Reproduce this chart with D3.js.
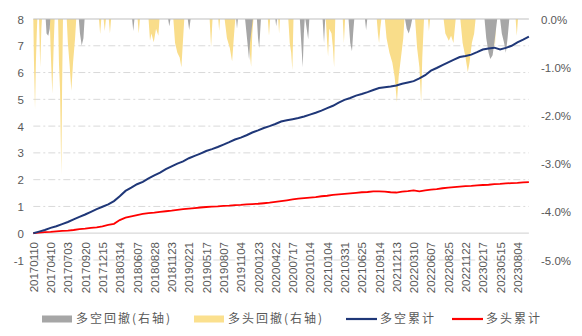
<!DOCTYPE html>
<html><head><meta charset="utf-8">
<script src="https://cdn.jsdelivr.net/npm/d3@7"></script>
<style>
html,body{margin:0;padding:0;background:#fff;}
svg{display:block;}
</style></head>
<body><svg id="c" width="582" height="336"></svg>
<script>
// ---- data ----
const tickLabels = ["20170110","20170410","20170703","20170920","20171215","20180314","20180607","20180828","20181123","20190221","20190517","20190807","20191104","20200123","20200422","20200717","20201014","20210104","20210331","20210625","20210914","20211213","20220310","20220607","20220825","20221122","20230217","20230515","20230804"];
const tickStep = 60;          // trading days between labels
const totalDays = 1720;
const sampleStep = 20;        // trading days between line samples
const longShortCum = [0,0.06,0.12,0.2,0.26,0.34,0.42,0.52,0.61,0.7,0.8,0.9,0.99,1.08,1.2,1.38,1.58,1.7,1.83,1.92,2.05,2.16,2.26,2.39,2.5,2.6,2.68,2.8,2.89,2.97,3.07,3.14,3.22,3.31,3.4,3.5,3.57,3.66,3.76,3.84,3.93,4.0,4.08,4.17,4.22,4.26,4.3,4.36,4.43,4.5,4.58,4.67,4.76,4.88,4.98,5.05,5.14,5.2,5.27,5.35,5.42,5.45,5.48,5.52,5.58,5.63,5.68,5.78,5.9,6.07,6.17,6.28,6.38,6.48,6.58,6.62,6.67,6.76,6.86,6.9,6.93,6.86,6.92,7.0,7.13,7.23,7.34];
const longCum = [0,0.02,0.04,0.05,0.07,0.09,0.1,0.12,0.15,0.17,0.2,0.22,0.26,0.31,0.35,0.49,0.58,0.63,0.68,0.72,0.75,0.77,0.8,0.82,0.84,0.87,0.9,0.92,0.94,0.96,0.98,0.99,1.0,1.02,1.03,1.05,1.06,1.08,1.09,1.1,1.12,1.14,1.17,1.2,1.23,1.26,1.29,1.31,1.33,1.35,1.38,1.4,1.43,1.45,1.47,1.49,1.51,1.53,1.54,1.56,1.56,1.55,1.53,1.52,1.55,1.57,1.6,1.56,1.6,1.63,1.65,1.68,1.7,1.72,1.74,1.76,1.77,1.79,1.8,1.81,1.83,1.84,1.86,1.87,1.88,1.9,1.91];
// drawdowns (% , right axis): [trading day, drawdown]
const longShortDD = [[0,0],[43,0],[46,-0.3],[52,-0.35],[57,-0.2],[59,0],[158,0],[162,-0.3],[168,-0.55],[174,-0.4],[178,0],[343,0],[347,-0.25],[351,0],[468,0],[472,-0.15],[476,0],[536,0],[541,-0.23],[546,0],[704,0],[707,-0.2],[710,0],[735,0],[740,-0.3],[745,-0.6],[749,-0.85],[752,-0.5],[756,-0.3],[762,0],[776,0],[780,-0.4],[784,-0.6],[787,-0.3],[790,0],[840,0],[843,-0.15],[846,0],[925,0],[930,-0.5],[935,-1.0],[939,-0.3],[942,0],[944,0],[950,-0.25],[954,-0.42],[958,0],[1004,0],[1009,-0.5],[1013,0],[1094,0],[1100,-0.5],[1106,-0.67],[1110,-0.3],[1114,0],[1151,0],[1155,-0.23],[1159,0],[1290,0],[1296,-0.2],[1303,-0.3],[1310,-0.15],[1315,0],[1566,0],[1572,-0.4],[1580,-0.7],[1586,-0.83],[1594,-0.75],[1600,-0.5],[1606,-0.2],[1610,0],[1620,0],[1626,-0.3],[1634,-0.5],[1640,-0.7],[1646,-0.4],[1652,0],[1720,0]];
const longDD = [[0,0],[2,-0.8],[6,-1.87],[9,-0.9],[12,-0.3],[14,0],[20,0],[24,-1.0],[28,-0.2],[30,0],[57,0],[60,-0.6],[66,-1.55],[71,-0.5],[74,0],[86,0],[89,-0.9],[93,-1.5],[97,-3.25],[100,-1.4],[103,0],[116,0],[120,-0.5],[126,-0.95],[132,-1.49],[138,-0.9],[145,-0.4],[149,0],[228,0],[232,-0.31],[236,0],[244,0],[248,-0.25],[252,0],[262,0],[266,-0.3],[270,0],[362,0],[366,-0.3],[370,0],[400,0],[405,-0.45],[410,-0.3],[418,-0.48],[426,-0.2],[434,-0.35],[438,0],[486,0],[492,-0.5],[500,-0.7],[508,-0.8],[514,-1.0],[519,-0.5],[524,0],[612,0],[617,-0.58],[622,0],[642,0],[645,-0.25],[648,0],[664,0],[672,-0.4],[682,-0.6],[690,-0.88],[697,-0.3],[701,0],[738,0],[745,-0.3],[750,-0.6],[756,-0.99],[760,-0.3],[764,0],[814,0],[818,-0.35],[822,0],[850,0],[853,-0.3],[856,0],[885,0],[890,-0.5],[895,-0.7],[899,-1.06],[903,0],[1015,0],[1020,-0.5],[1023,-0.78],[1027,-0.2],[1035,-0.3],[1040,-0.6],[1044,-1.0],[1048,0],[1074,0],[1078,-0.5],[1082,0],[1098,0],[1102,-0.3],[1106,0],[1192,0],[1196,-0.3],[1200,-0.5],[1204,-0.2],[1208,0],[1220,0],[1226,-0.4],[1236,-0.7],[1246,-0.9],[1254,-1.2],[1262,-1.72],[1268,-1.2],[1276,-0.8],[1284,-0.4],[1288,0],[1325,0],[1332,-0.6],[1340,-1.0],[1346,-1.72],[1350,-0.8],[1356,0],[1370,0],[1373,-0.25],[1377,0],[1424,0],[1430,-0.3],[1442,-0.45],[1450,-0.35],[1458,-0.5],[1466,0],[1482,0],[1490,-0.5],[1500,-0.8],[1508,-1.1],[1514,-0.9],[1522,-0.5],[1530,-0.3],[1535,0],[1595,0],[1602,-0.6],[1606,0],[1632,0],[1637,-0.4],[1641,0],[1674,0],[1678,-0.35],[1682,0],[1720,0]];
const leftTicks = [-1,0,1,2,3,4,5,6,7,8];
const rightTicks = [0,-1,-2,-3,-4,-5];
const seriesNames = ["多空回撤(右轴)","多头回撤(右轴)","多空累计","多头累计"];

// ---- chart ----
const svg = d3.select("#c");
const x = d3.scaleLinear().domain([0,totalDays]).range([33.3,528.9]);
const yL = d3.scaleLinear().domain([-1,8]).range([260,19]);
const yR = d3.scaleLinear().domain([-5,0]).range([260,19]);
const grid = "#d9d9d9", txt = "#595959";
const font = "'Liberation Sans', Arial, sans-serif";

// gridlines
svg.append("g").selectAll("line").data(leftTicks.filter(v=>v!==0 && v!==8)).join("line")
  .attr("x1",x(0)).attr("x2",x.range()[1]).attr("y1",d=>yL(d)).attr("y2",d=>yL(d))
  .attr("stroke",grid).attr("stroke-width",1).attr("stroke-dasharray","7,3,2,3");

// drawdown areas
const area = d3.area().x(d=>x(d[0])).y0(yR(0)).y1(d=>yR(d[1]));
svg.append("path").datum(longDD).attr("d",area).attr("fill","#f9dd8a");
svg.append("path").datum(longShortDD).attr("d",area).attr("fill","#a6a6a6");
svg.append("line").attr("x1",x(0)).attr("x2",x.range()[1]).attr("y1",yR(0)).attr("y2",yR(0))
  .attr("stroke","#bfbfbf").attr("stroke-width",1);

// zero axis line
svg.append("line").attr("x1",x(0)).attr("x2",x.range()[1]).attr("y1",yL(0)).attr("y2",yL(0))
  .attr("stroke","#d9d9d9").attr("stroke-width",1.2);

// cumulative lines
const line = d3.line().x((d,i)=>x(i*sampleStep)).y(d=>yL(d));
svg.append("path").datum(longCum).attr("d",line).attr("fill","none").attr("stroke","#ff0000").attr("stroke-width",1.8);
svg.append("path").datum(longShortCum).attr("d",line).attr("fill","none").attr("stroke","#1f3778").attr("stroke-width",2);

// left axis
const gl = svg.append("g").attr("transform","translate(24,0)")
  .call(d3.axisLeft(yL).tickValues(leftTicks).tickSize(0).tickPadding(0).tickFormat(d=>String(d)));
gl.select(".domain").remove();
gl.selectAll("text").attr("font-family",font).attr("font-size","11.5px").attr("fill",txt).attr("dy","0.35em");

// right axis
const gr = svg.append("g").attr("transform","translate(541,0)")
  .call(d3.axisRight(yR).tickValues(rightTicks).tickSize(0).tickPadding(0).tickFormat(d=>d.toFixed(1)+"%"));
gr.select(".domain").remove();
gr.selectAll("text").attr("font-family",font).attr("font-size","11.5px").attr("fill",txt).attr("dy","0.35em");

// x axis labels
const tickDays = tickLabels.map((t,i)=>i*tickStep);
const gx = svg.append("g").attr("transform","translate(0,240)")
  .call(d3.axisBottom(x).tickValues(tickDays).tickSize(0).tickPadding(0).tickFormat((d,i)=>tickLabels[i]));
gx.select(".domain").remove();
gx.selectAll("text").attr("font-family",font).attr("font-size","11.5px").attr("fill",txt)
  .attr("text-anchor","end").attr("transform","rotate(-90)").attr("x",-2).attr("y",0).attr("dy","0.35em");

// legend
const lg = svg.append("g").attr("font-family","'Noto Sans CJK SC', sans-serif").attr("font-size","12px").attr("fill",txt);
const legItems = [
  {name:seriesNames[0], type:"rect", color:"#a6a6a6", x0:42, tx:76},
  {name:seriesNames[1], type:"rect", color:"#fbe08e", x0:194, tx:228},
  {name:seriesNames[2], type:"line", color:"#1f3778", x0:346, tx:380},
  {name:seriesNames[3], type:"line", color:"#ff0000", x0:452, tx:486}
];
const ly = 319;
legItems.forEach(it=>{
  if(it.type==="rect") lg.append("rect").attr("x",it.x0).attr("y",ly-3.5).attr("width",30).attr("height",7).attr("fill",it.color);
  else lg.append("line").attr("x1",it.x0).attr("x2",it.x0+31).attr("y1",ly).attr("y2",ly).attr("stroke",it.color).attr("stroke-width",2.2);
  lg.append("text").attr("x",it.tx).attr("y",ly).attr("dy","0.36em").attr("letter-spacing","2px").text(it.name);
});
</script></body></html>
